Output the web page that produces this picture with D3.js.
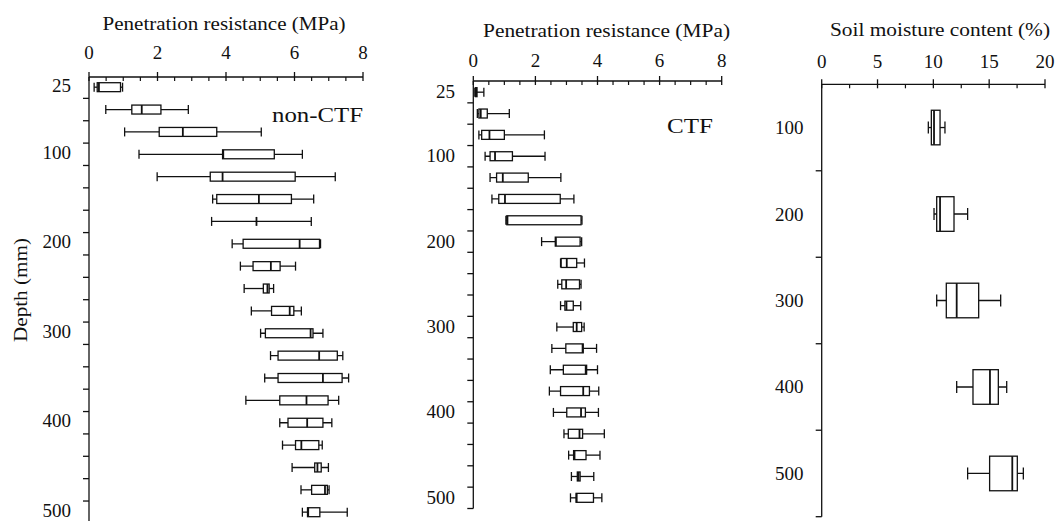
<!DOCTYPE html>
<html>
<head>
<meta charset="utf-8">
<script src="https://cdn.jsdelivr.net/npm/d3@7"></script>
<style>
  body { margin: 0; background: #fff; }
  svg text { font-family: "Liberation Serif", "DejaVu Serif", serif; fill: #111; }
</style>
</head>
<body>
<svg id="chart" width="1056" height="521"></svg>
<script>
// depths (mm)
var depthsPR = d3.range(25, 501, 25);
var depthsSM = [100, 200, 300, 400, 500];

// [min, q1, median, q3, max] per depth
var nonCtf = [
    [0.15, 0.24, 0.29, 0.92, 0.98],
    [0.49, 1.25, 1.54, 2.10, 2.90],
    [1.04, 2.05, 2.74, 3.73, 5.03],
    [1.46, 3.90, 3.92, 5.41, 6.23],
    [1.99, 3.54, 3.90, 6.02, 7.19],
    [3.61, 3.73, 4.96, 5.91, 6.56],
    [3.58, 4.89, 4.89, 4.89, 6.49],
    [4.18, 4.50, 6.15, 6.73, 6.76],
    [4.42, 4.79, 5.31, 5.58, 6.03],
    [4.53, 5.09, 5.21, 5.26, 5.39],
    [4.74, 5.33, 5.86, 5.98, 6.20],
    [5.01, 5.15, 6.47, 6.54, 6.83],
    [5.30, 5.52, 6.72, 7.25, 7.41],
    [5.13, 5.52, 6.83, 7.39, 7.58],
    [4.58, 5.57, 6.35, 6.98, 7.29],
    [5.57, 5.81, 6.37, 6.83, 7.09],
    [5.65, 6.03, 6.20, 6.71, 6.81],
    [5.93, 6.59, 6.67, 6.78, 6.99],
    [6.19, 6.50, 6.89, 6.96, 7.01],
    [6.23, 6.38, 6.40, 6.74, 7.54]
];

var ctf = [
    [0.05, 0.07, 0.09, 0.12, 0.34],
    [0.13, 0.18, 0.24, 0.45, 1.16],
    [0.18, 0.27, 0.52, 1.00, 2.29],
    [0.38, 0.54, 0.70, 1.26, 2.31],
    [0.54, 0.75, 0.95, 1.77, 2.82],
    [0.60, 0.82, 1.02, 2.80, 3.24],
    [1.05, 1.08, 1.10, 3.47, 3.50],
    [2.20, 2.64, 2.66, 3.44, 3.49],
    [2.81, 2.83, 3.01, 3.33, 3.58],
    [2.72, 2.85, 2.99, 3.42, 3.47],
    [2.81, 2.95, 3.00, 3.22, 3.46],
    [2.69, 3.22, 3.33, 3.49, 3.57],
    [2.53, 2.98, 3.52, 3.54, 3.97],
    [2.48, 2.90, 3.62, 3.65, 4.00],
    [2.45, 2.81, 3.54, 3.74, 4.04],
    [2.58, 3.01, 3.47, 3.61, 4.03],
    [2.92, 3.06, 3.42, 3.52, 4.22],
    [3.07, 3.23, 3.26, 3.63, 4.08],
    [3.16, 3.35, 3.39, 3.44, 3.88],
    [3.13, 3.31, 3.33, 3.87, 4.14]
];

var moisture = [
    [9.55, 9.82, 10.06, 10.60, 11.04],
    [10.06, 10.30, 10.60, 11.85, 13.07],
    [10.30, 11.16, 12.09, 14.06, 16.03],
    [12.09, 13.55, 15.07, 15.82, 16.57],
    [13.07, 15.04, 17.07, 17.52, 18.06]
];

var prTicks = [0, 2, 4, 6, 8];
var smTicks = [0, 5, 10, 15, 20];
var prDepthLabels = [25, 100, 200, 300, 400, 500];

var svg = d3.select('#chart');

function drawPanel(cfg) {
    var g = svg.append('g');
    var x = d3.scaleLinear().domain(cfg.xDomain).range(cfg.xRange);
    var y = d3.scaleBand().domain(cfg.depths).range(cfg.yRange).padding(0);
    var bw = y.bandwidth();
    var boxH = bw * cfg.boxFrac;
    var capH = cfg.capH;

    // x axis line + ticks (major cross the line, minor hang below)
    g.append('line')
        .attr('x1', x(cfg.xDomain[0])).attr('x2', x(cfg.xDomain[1]))
        .attr('y1', cfg.axisY).attr('y2', cfg.axisY)
        .attr('stroke', '#111').attr('stroke-width', 1.3);

    var minor = d3.range(cfg.xDomain[0], cfg.xDomain[1] + 0.001, cfg.minorStep)
        .filter(function (v) { return cfg.ticks.indexOf(v) < 0; });
    g.selectAll('.minor').data(minor).enter().append('line')
        .attr('x1', function (d) { return x(d); }).attr('x2', function (d) { return x(d); })
        .attr('y1', cfg.axisY).attr('y2', cfg.axisY + 4)
        .attr('stroke', '#111').attr('stroke-width', 1.2);
    g.selectAll('.major').data(cfg.ticks).enter().append('line')
        .attr('x1', function (d) { return x(d); }).attr('x2', function (d) { return x(d); })
        .attr('y1', cfg.axisY - 5).attr('y2', cfg.axisY + 4)
        .attr('stroke', '#111').attr('stroke-width', 1.3);
    g.selectAll('.xlab').data(cfg.ticks).enter().append('text')
        .attr('x', function (d) { return x(d); })
        .attr('y', cfg.tickLabelY)
        .attr('text-anchor', 'middle')
        .attr('font-size', '19px')
        .text(function (d) { return d; });

    g.append('text')
        .attr('x', cfg.titleX).attr('y', cfg.titleY)
        .attr('text-anchor', 'middle')
        .attr('font-size', '19px')
        .attr('textLength', cfg.titleLen)
        .attr('lengthAdjust', 'spacingAndGlyphs')
        .text(cfg.title);

    // y axis
    var x0 = x(cfg.xDomain[0]);
    g.append('line')
        .attr('x1', x0).attr('x2', x0)
        .attr('y1', cfg.axisY).attr('y2', cfg.yEnd)
        .attr('stroke', '#111').attr('stroke-width', 1.3);
    var bounds = cfg.depths.slice(1).map(function (d) { return y(d); });
    if (cfg.endTick) bounds.push(cfg.yRange[1]);
    g.selectAll('.ytick').data(bounds).enter().append('line')
        .attr('x1', x0 - 6).attr('x2', x0)
        .attr('y1', function (d) { return d; }).attr('y2', function (d) { return d; })
        .attr('stroke', '#111').attr('stroke-width', 1.3);
    g.selectAll('.ylab').data(cfg.yLabels).enter().append('text')
        .attr('x', cfg.yLabelX)
        .attr('y', function (d) { return y(d) + bw / 2 + cfg.yLabelDy; })
        .attr('text-anchor', 'end')
        .attr('font-size', '19px')
        .text(function (d) { return d; });

    // boxes
    var rows = g.selectAll('.row').data(cfg.values).enter().append('g')
        .attr('transform', function (d, i) { return 'translate(0,' + (y(cfg.depths[i]) + bw / 2) + ')'; });
    rows.append('line') // whisker
        .attr('x1', function (d) { return x(d[0]); }).attr('x2', function (d) { return x(d[4]); })
        .attr('stroke', '#111').attr('stroke-width', 1.3);
    rows.append('line')
        .attr('x1', function (d) { return x(d[0]); }).attr('x2', function (d) { return x(d[0]); })
        .attr('y1', -capH / 2).attr('y2', capH / 2)
        .attr('stroke', '#111').attr('stroke-width', 1.3);
    rows.append('line')
        .attr('x1', function (d) { return x(d[4]); }).attr('x2', function (d) { return x(d[4]); })
        .attr('y1', -capH / 2).attr('y2', capH / 2)
        .attr('stroke', '#111').attr('stroke-width', 1.3);
    rows.append('rect')
        .attr('x', function (d) { return x(d[1]); })
        .attr('width', function (d) { return x(d[3]) - x(d[1]); })
        .attr('y', -boxH / 2).attr('height', boxH)
        .attr('fill', '#fff').attr('stroke', '#111').attr('stroke-width', 1.3);
    rows.append('line') // median
        .attr('x1', function (d) { return x(d[2]); }).attr('x2', function (d) { return x(d[2]); })
        .attr('y1', -boxH / 2).attr('y2', boxH / 2)
        .attr('stroke', '#111').attr('stroke-width', 1.8);

    if (cfg.label) {
        g.append('text')
            .attr('x', cfg.label.x).attr('y', cfg.label.y)
            .attr('text-anchor', 'end')
            .attr('font-size', cfg.label.size)
            .attr('textLength', cfg.label.len)
            .attr('lengthAdjust', 'spacingAndGlyphs')
            .text(cfg.label.text);
    }
}

drawPanel({
    depths: depthsPR, values: nonCtf, yLabels: prDepthLabels,
    xDomain: [0, 8], xRange: [89, 363], ticks: prTicks, minorStep: 0.5,
    axisY: 77, yRange: [76, 523.4], yEnd: 521, endTick: false,
    boxFrac: 0.4, capH: 9, tickLabelY: 58.5, yLabelX: 71, yLabelDy: 4.5,
    title: 'Penetration resistance (MPa)', titleX: 224, titleY: 29.5, titleLen: 243,
    label: { text: 'non-CTF', x: 363, y: 122, size: '20px', len: 91 }
});

drawPanel({
    depths: depthsPR, values: ctf, yLabels: prDepthLabels,
    xDomain: [0, 8], xRange: [473.3, 721.7], ticks: prTicks, minorStep: 0.5,
    axisY: 81, yRange: [81.5, 508.5], yEnd: 508.5, endTick: true,
    boxFrac: 0.42, capH: 9, tickLabelY: 66.5, yLabelX: 455, yLabelDy: 6,
    title: 'Penetration resistance (MPa)', titleX: 606.5, titleY: 37, titleLen: 247,
    label: { text: 'CTF', x: 713, y: 133, size: '20px', len: 46 }
});

drawPanel({
    depths: depthsSM, values: moisture, yLabels: depthsSM,
    xDomain: [0, 20], xRange: [821.7, 1045], ticks: smTicks, minorStep: 2.5,
    axisY: 84.3, yRange: [84.3, 516.7], yEnd: 516.7, endTick: true,
    boxFrac: 0.4, capH: 12, tickLabelY: 68, yLabelX: 803.5, yLabelDy: 6.5,
    title: 'Soil moisture content (%)', titleX: 940, titleY: 35.5, titleLen: 220
});

// shared y title
svg.append('text')
    .attr('transform', 'translate(27,290)rotate(-90)')
    .attr('text-anchor', 'middle')
    .attr('font-size', '19px')
    .attr('textLength', 104)
    .attr('lengthAdjust', 'spacingAndGlyphs')
    .text('Depth (mm)');
</script>
</body>
</html>
